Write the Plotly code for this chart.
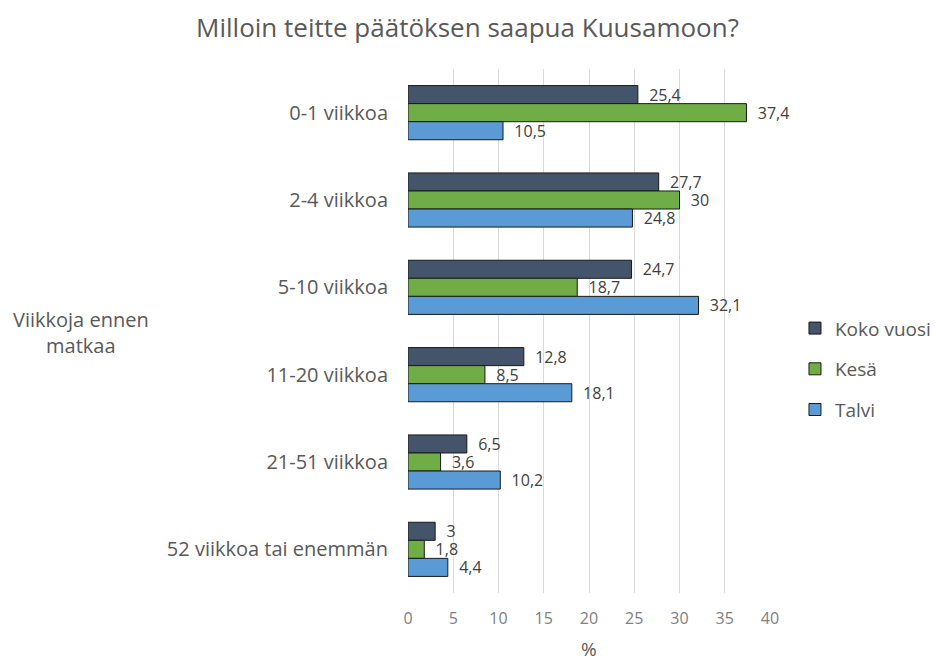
import plotly.graph_objects as go

categories = ["0-1 viikkoa", "2-4 viikkoa", "5-10 viikkoa", "11-20 viikkoa", "21-51 viikkoa", "52 viikkoa tai enemmän"]
koko_vuosi = [25.4, 27.7, 24.7, 12.8, 6.5, 3]
kesa = [37.4, 30, 18.7, 8.5, 3.6, 1.8]
talvi = [10.5, 24.8, 32.1, 18.1, 10.2, 4.4]
series = [("Koko vuosi", koko_vuosi, "#44546A"), ("Kesä", kesa, "#70AD47"), ("Talvi", talvi, "#5B9BD5")]

FONT = "Open Sans, sans-serif"

def fmt(v):
    return "\u00a0\u00a0" + ("%g" % v).replace(".", ",")

fig = go.Figure()
for name, vals, col in series:
    fig.add_trace(go.Bar(
        y=categories, x=vals, name=name, orientation="h", legendgroup=name,
        marker=dict(color=col, line=dict(color="#1a1a1a", width=1)),
        text=[fmt(v) for v in vals], textposition="outside", constraintext="none",
        textfont=dict(family=FONT, size=16, color="#404040"),
        cliponaxis=False,
    ))

fig.update_layout(
    width=935, height=658,
    barmode="group", bargap=0.38, bargroupgap=0,
    plot_bgcolor="white", paper_bgcolor="white",
    margin=dict(l=408, r=165, t=69, b=65, autoexpand=False),
    font=dict(family=FONT, color="#595959"),
    title=dict(text="Milloin teitte päätöksen saapua Kuusamoon?", x=0.5, xanchor="center",
               y=0.957, yanchor="middle", font=dict(size=26, color="#595959")),
    xaxis=dict(range=[0, 40], dtick=5, showgrid=True, gridcolor="#D9D9D9", zeroline=False,
               tickfont=dict(size=16, color="#808080"), ticks="", automargin=False,
               ticklabelstandoff=14),
    yaxis=dict(autorange="reversed", tickfont=dict(size=20, color="#595959"), ticks="",
               ticklabelstandoff=19, showgrid=False, automargin=False),
    legend=dict(x=1.069, y=0.427, xanchor="left", yanchor="middle",
                font=dict(size=19, color="#595959"), tracegroupgap=13, traceorder="grouped"),
    annotations=[
        dict(text="Viikkoja ennen<br>matkaa", xref="paper", yref="paper",
             x=-0.903, y=0.498, xanchor="center", yanchor="middle", showarrow=False,
             align="center", font=dict(size=20, color="#595959")),
        dict(text="%", xref="paper", yref="paper", x=0.5, y=-0.107,
             xanchor="center", yanchor="middle", showarrow=False,
             font=dict(size=19, color="#595959")),
    ],
)
fig.write_html("out.html", config={"displayModeBar": False},
               post_script="document.body.style.margin='0';document.body.style.overflow='hidden';")
